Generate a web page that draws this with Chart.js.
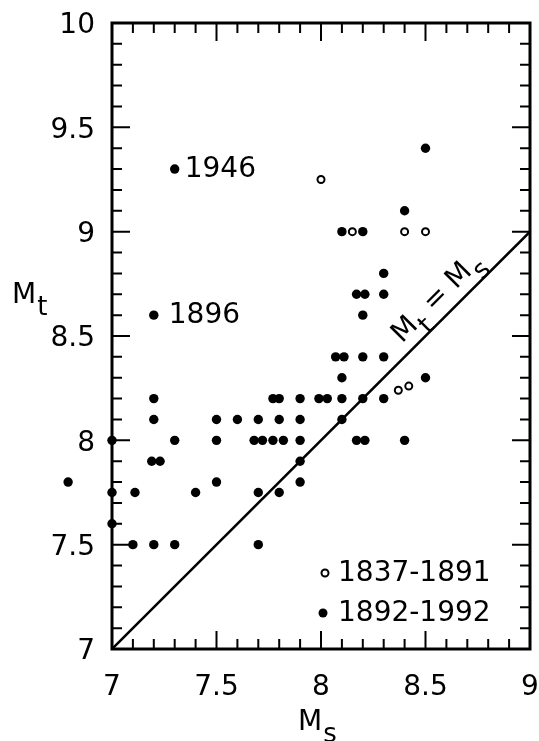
<!DOCTYPE html>
<html>
<head>
<meta charset="utf-8">
<script src="https://cdn.jsdelivr.net/npm/chart.js@4.4.0/dist/chart.umd.min.js"></script>
<style>
html, body { margin: 0; padding: 0; background: #fff; }
#wrap { width: 539px; height: 741px; }
</style>
</head>
<body>
<div id="wrap"><canvas id="chart"></canvas></div>
<script>
// 1837-1891 events (open circles)
var msOld = [8.0, 8.15, 8.4, 8.5, 8.37, 8.42];
var mtOld = [9.25, 9.0, 9.0, 9.0, 8.24, 8.26];

// 1892-1992 events (filled circles)
var msNew = [7.3, 8.5, 8.4, 8.1, 8.2, 8.3, 8.17, 8.21, 8.3, 7.2, 8.2,
             8.07, 8.11, 8.2, 8.3, 8.1, 8.5,
             7.2, 7.77, 7.8, 7.9, 7.99, 8.03, 8.1, 8.2, 8.3,
             7.2, 7.5, 7.6, 7.7, 7.8, 7.9, 8.1,
             7.0, 7.3, 7.5, 7.68, 7.72, 7.77, 7.82, 7.9, 8.17, 8.21, 8.4,
             7.19, 7.23, 7.9,
             6.79, 7.5, 7.9,
             7.0, 7.11, 7.4, 7.7, 7.8,
             7.0,
             7.1, 7.2, 7.3, 7.7];
var mtNew = [9.3, 9.4, 9.1, 9.0, 9.0, 8.8, 8.7, 8.7, 8.7, 8.6, 8.6,
             8.4, 8.4, 8.4, 8.4, 8.3, 8.3,
             8.2, 8.2, 8.2, 8.2, 8.2, 8.2, 8.2, 8.2, 8.2,
             8.1, 8.1, 8.1, 8.1, 8.1, 8.1, 8.1,
             8.0, 8.0, 8.0, 8.0, 8.0, 8.0, 8.0, 8.0, 8.0, 8.0, 8.0,
             7.9, 7.9, 7.9,
             7.8, 7.8, 7.8,
             7.75, 7.75, 7.75, 7.75, 7.75,
             7.6,
             7.5, 7.5, 7.5, 7.5];

// Mt = Ms reference line
var lineMs = [7, 9];
var lineMt = [7, 9];

// labelled events
var noteText = ['1946', '1896'];
var noteMs = [7.3, 7.2];
var noteMt = [9.3, 8.6];

var legendText = ['1837-1891', '1892-1992'];

var FONT = '"DejaVu Sans", "Liberation Sans", sans-serif';

function pts(xs, ys) {
    var out = [];
    for (var i = 0; i < xs.length; i++) out.push({x: xs[i], y: ys[i]});
    return out;
}

function isMajor(v) {
    return Math.abs(v * 2 - Math.round(v * 2)) < 1e-6;
}

function tickLabel(v) {
    return isMajor(v) ? String(Math.round(v * 10) / 10) : '';
}

// draws "M" + subscript letter, returns width
function drawSub(ctx, x, y, sub, measureOnly) {
    ctx.font = '28px ' + FONT;
    var w1 = ctx.measureText('M').width;
    ctx.font = '26px ' + FONT;
    var w2 = ctx.measureText(sub).width;
    if (!measureOnly) {
        ctx.font = '28px ' + FONT;
        ctx.fillText('M', x, y);
        ctx.font = '26px ' + FONT;
        ctx.fillText(sub, x + w1 + 1, y + 12);
    }
    return w1 + 1 + w2;
}

// the library skips points that fall outside the chart area; draw those here
var outsidePoints = {
    id: 'outsidePoints',
    afterDatasetsDraw: function(chart) {
        var a = chart.chartArea;
        chart.data.datasets.forEach(function(ds, i) {
            var meta = chart.getDatasetMeta(i);
            if (meta.type === 'line' && ds.type === 'line') return;
            meta.data.forEach(function(el) {
                if (el.x < a.left || el.x > a.right || el.y < a.top || el.y > a.bottom) {
                    el.draw(chart.ctx);
                }
            });
        });
    }
};

var framePlugin = {
    id: 'framePlugin',
    afterDraw: function(chart) {
        var ctx = chart.ctx, a = chart.chartArea;
        var xs = chart.scales.x, ys = chart.scales.y;
        ctx.save();
        ctx.strokeStyle = '#000';
        ctx.lineWidth = 2;
        ctx.beginPath();
        xs.ticks.forEach(function(t) {
            var p = xs.getPixelForValue(t.value);
            var len = isMajor(t.value) ? 18 : 10;
            ctx.moveTo(p, a.bottom); ctx.lineTo(p, a.bottom - len);
            ctx.moveTo(p, a.top); ctx.lineTo(p, a.top + len);
        });
        ys.ticks.forEach(function(t) {
            var p = ys.getPixelForValue(t.value);
            var len = isMajor(t.value) ? 18 : 10;
            ctx.moveTo(a.left, p); ctx.lineTo(a.left + len, p);
            ctx.moveTo(a.right, p); ctx.lineTo(a.right - len, p);
        });
        ctx.stroke();
        ctx.lineWidth = 3;
        ctx.strokeRect(a.left, a.top, a.right - a.left, a.bottom - a.top);

        ctx.fillStyle = '#000';
        ctx.textBaseline = 'middle';
        ctx.textAlign = 'left';

        // year notes next to points
        ctx.font = '28px ' + FONT;
        var dx = [10, 15];
        for (var i = 0; i < noteText.length; i++) {
            ctx.fillText(noteText[i], xs.getPixelForValue(noteMs[i]) + dx[i],
                         ys.getPixelForValue(noteMt[i]) + 1);
        }

        // legend
        var lx = a.right - 207, ly = [a.bottom - 76, a.bottom - 36];
        ctx.beginPath();
        ctx.arc(lx + 2, ly[0], 3.5, 0, Math.PI * 2);
        ctx.lineWidth = 2;
        ctx.stroke();
        ctx.beginPath();
        ctx.arc(lx, ly[1], 4.5, 0, Math.PI * 2);
        ctx.fill();
        ctx.font = '28px ' + FONT;
        ctx.fillText(legendText[0], lx + 15, ly[0] + 1);
        ctx.fillText(legendText[1], lx + 15, ly[1] + 1);

        // axis titles
        ctx.textBaseline = 'alphabetic';
        drawSub(ctx, 12, 303, 't');
        drawSub(ctx, 298, 730, 's');

        // diagonal label along the line
        var cx = xs.getPixelForValue(8.555), cy = ys.getPixelForValue(8.685);
        ctx.translate(cx, cy);
        ctx.rotate(-Math.PI / 4);
        var wA = drawSub(ctx, 0, 0, 't', true);
        ctx.font = '28px ' + FONT;
        var wEq = ctx.measureText(' = ').width;
        var wB = drawSub(ctx, 0, 0, 's', true);
        var total = wA + wEq + wB;
        var x0 = -total / 2;
        drawSub(ctx, x0, 8, 't');
        ctx.font = '28px ' + FONT;
        ctx.fillText(' = ', x0 + wA, 8);
        drawSub(ctx, x0 + wA + wEq, 8, 's');
        ctx.restore();
    }
};

new Chart(document.getElementById('chart'), {
    type: 'scatter',
    data: {
        datasets: [{
            label: legendText[0],
            data: pts(msOld, mtOld),
            backgroundColor: '#fff',
            borderColor: '#000',
            borderWidth: 2,
            pointRadius: 3.5,
            order: 1
        }, {
            label: legendText[1],
            data: pts(msNew, mtNew),
            backgroundColor: '#000',
            borderColor: '#000',
            borderWidth: 0,
            pointRadius: 4.7,
            clip: false,
            order: 2
        }, {
            type: 'line',
            label: 'Mt = Ms',
            data: pts(lineMs, lineMt),
            borderColor: '#000',
            borderWidth: 2.5,
            pointRadius: 0,
            fill: false,
            order: 3
        }]
    },
    options: {
        responsive: true,
        maintainAspectRatio: false,
        animation: false,
        layout: { padding: { left: 0, right: 9, top: 23, bottom: 0 } },
        plugins: { legend: { display: false }, tooltip: { enabled: false } },
        scales: {
            x: {
                type: 'linear',
                min: 7, max: 9,
                grid: { display: false },
                border: { display: false },
                afterFit: function(s) {
                    s.height = 92;
                    s.paddingLeft = 0;
                    s.paddingRight = 0;
                },
                ticks: {
                    stepSize: 0.1,
                    autoSkip: false,
                    maxRotation: 0,
                    padding: 14,
                    color: '#000',
                    font: { size: 28, family: FONT },
                    callback: tickLabel
                }
            },
            y: {
                type: 'linear',
                min: 7, max: 10,
                grid: { display: false },
                border: { display: false },
                afterFit: function(s) {
                    s.width = 112;
                    s.paddingTop = 0;
                    s.paddingBottom = 0;
                },
                ticks: {
                    stepSize: 0.1,
                    autoSkip: false,
                    padding: 9,
                    labelOffset: 3,
                    color: '#000',
                    font: { size: 28, family: FONT },
                    callback: tickLabel
                }
            }
        }
    },
    plugins: [outsidePoints, framePlugin]
});
</script>
</body>
</html>
